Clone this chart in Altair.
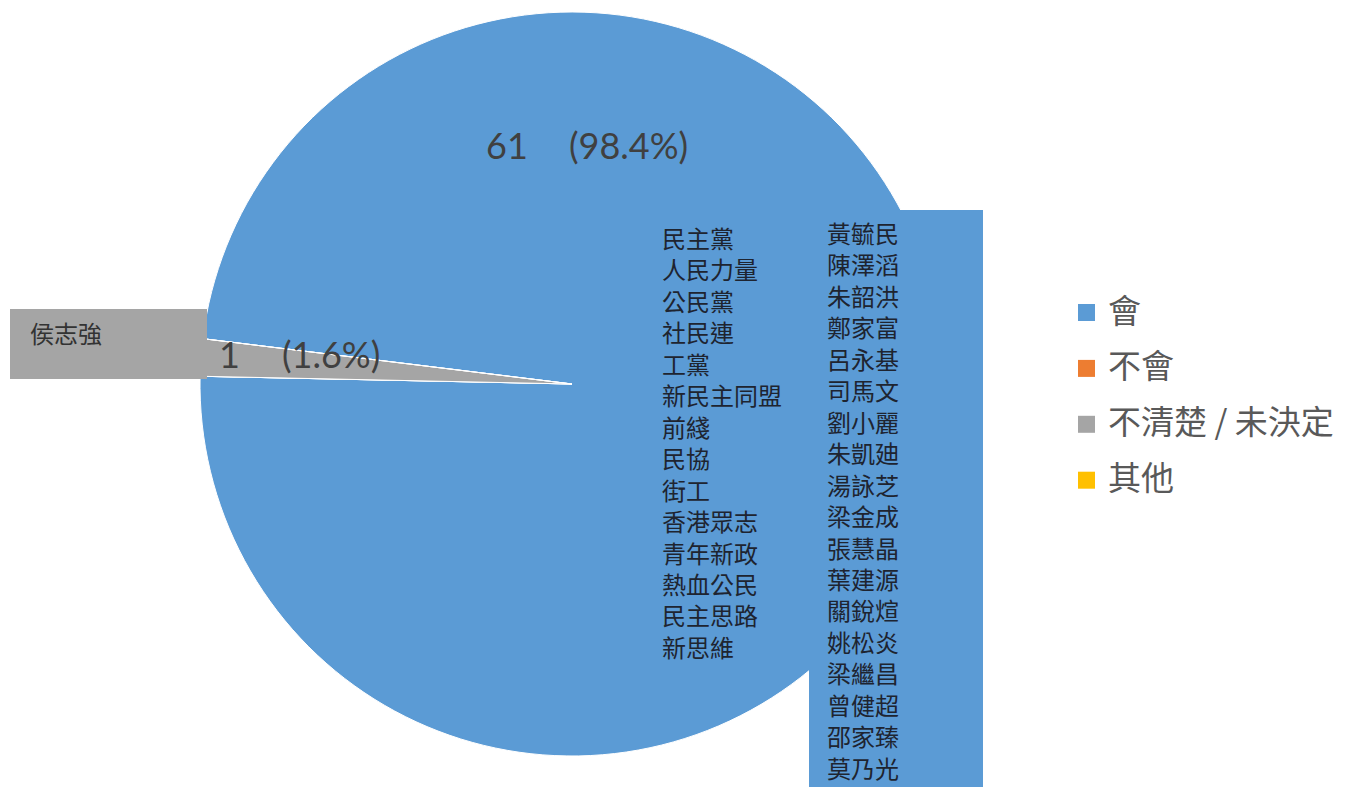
import math
import altair as alt
import pandas as pd

# ---------------- data ----------------
categories = ["會", "不會", "不清楚 / 未決定", "其他"]
counts = [61, 0, 1, 0]
colors = ["#5B9BD5", "#ED7D31", "#A5A5A5", "#FFC000"]

parties = ["民主黨", "人民力量", "公民黨", "社民連", "工黨", "新民主同盟", "前綫",
           "民協", "街工", "香港眾志", "青年新政", "熱血公民", "民主思路", "新思維"]
members = ["黃毓民", "陳澤滔", "朱韶洪", "鄭家富", "呂永基", "司馬文", "劉小麗",
           "朱凱廸", "湯詠芝", "梁金成", "張慧晶", "葉建源", "關銳煊", "姚松炎",
           "梁繼昌", "曾健超", "邵家臻", "莫乃光"]
undecided_names = ["侯志強"]

total = sum(counts)
pie_df = pd.DataFrame({"cat": categories, "value": counts, "idx": list(range(len(categories)))})

start = math.radians(277)
CJK = "Noto Sans CJK TC"
NUM = "Lato"
LINE_H = 31.45

one = pd.DataFrame({"a": [0]})

pie = alt.Chart(pie_df).mark_arc(radius=372, stroke="white", strokeWidth=1).encode(
    theta=alt.Theta("value:Q", stack=True, scale=alt.Scale(range=[start, start + 2 * math.pi])),
    color=alt.Color(
        "cat:N",
        scale=alt.Scale(domain=categories, range=colors),
        legend=alt.Legend(
            title=None, orient="none", legendX=1062, legendY=288,
            symbolType="square", symbolSize=289, symbolStrokeWidth=0,
            labelFont=CJK, labelFontSize=33, labelColor="#595959",
            labelLimit=400, labelOffset=5, rowPadding=21.9, padding=0,
        ),
    ),
    order=alt.Order("idx:Q", sort="ascending"),
    x=alt.value(564),
    y=alt.value(376),
)

gray_box = alt.Chart(one).mark_rect(fill="#A5A5A5").encode(
    x=alt.value(2), x2=alt.value(199), y=alt.value(301), y2=alt.value(371)
)
blue_box = alt.Chart(one).mark_rect(fill="#5B9BD5").encode(
    x=alt.value(801), x2=alt.value(975), y=alt.value(202), y2=alt.value(779)
)

def pct(v):
    return f"({v / total * 100:.1f}%)"

lbl_style = dict(font=NUM, fontSize=36, color="#404040", align="left", baseline="alphabetic")
yes_n = alt.Chart(one).mark_text(text=str(counts[0]), **lbl_style).encode(x=alt.value(478), y=alt.value(151))
yes_p = alt.Chart(one).mark_text(text=pct(counts[0]), **lbl_style).encode(x=alt.value(561), y=alt.value(151))
und_n = alt.Chart(one).mark_text(text=str(counts[2]), **lbl_style).encode(x=alt.value(211), y=alt.value(360))
und_p = alt.Chart(one).mark_text(text=pct(counts[2]), **lbl_style).encode(x=alt.value(274), y=alt.value(360))


def name_list(names, x0, y0, color="#1e2430"):
    df = pd.DataFrame({"name": names, "i": list(range(len(names)))})
    return alt.Chart(df).transform_calculate(
        yy=f"{y0} + datum.i * {LINE_H}"
    ).mark_text(font=CJK, fontSize=24, color=color, align="left", baseline="top").encode(
        x=alt.value(x0),
        y=alt.Y("yy:Q", scale=None, axis=None),
        text="name:N",
    )


party_txt = name_list(parties, 654, 221)
member_txt = name_list(members, 819, 216)
und_txt = name_list(undecided_names, 22, 316, color="#333333")

chart = alt.layer(
    pie, gray_box, blue_box, yes_n, yes_p, und_n, und_p, party_txt, member_txt, und_txt
).properties(
    width=1333, height=779, padding=0, autosize="none"
).configure_view(stroke=None)

chart.save("out.html", embed_options={"renderer": "svg", "actions": False})
